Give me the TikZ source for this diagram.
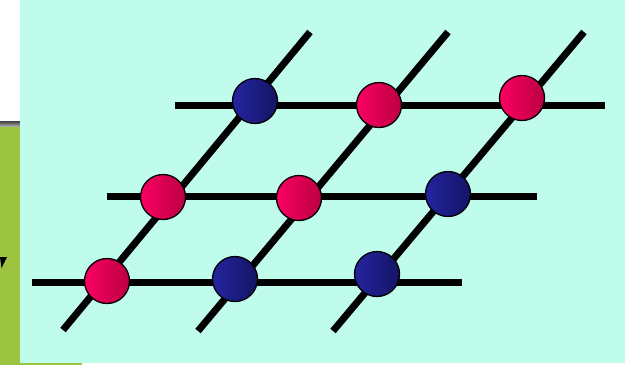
\documentclass[tikz,border=0pt]{standalone}
\begin{document}
\begin{tikzpicture}[x=1pt,y=-1pt,
  bar/.style={line width=7pt,line cap=butt,black},
  redball/.style={circle,draw=black,line width=1.3pt,minimum size=45pt,inner sep=0pt,left color=redL,right color=redR},
  blueball/.style={circle,draw=black,line width=1.3pt,minimum size=45pt,inner sep=0pt,left color=blueL,right color=blueR}]
\definecolor{bgcyan}{RGB}{192,252,236}
\definecolor{grn}{RGB}{157,196,64}
\definecolor{redL}{RGB}{250,0,98}
\definecolor{redR}{RGB}{188,0,66}
\definecolor{blueL}{RGB}{36,36,160}
\definecolor{blueR}{RGB}{20,20,100}
\useasboundingbox (0,0) rectangle (625,365);
% background pieces
\fill[white] (0,0) rectangle (625,365);
\fill[grn] (0,124) rectangle (20,365);
\fill[grn] (0,360) rectangle (82,365);
\shade[top color=black!75,bottom color=black!35] (0,121) rectangle (20,126);
\fill[black] (0,257) -- (7,257) -- (1.5,268) -- cycle;
\fill[bgcyan] (20,0) rectangle (625,363);
% line end points
\coordinate (h1a) at (175,105); \coordinate (h1b) at (605,105);
\coordinate (h2a) at (107,196); \coordinate (h2b) at (537,196);
\coordinate (h3a) at (32,282);  \coordinate (h3b) at (462,282);
\coordinate (d1a) at (63,330);  \coordinate (d1b) at (310,32);
\coordinate (d2a) at (198,331); \coordinate (d2b) at (448,32);
\coordinate (d3a) at (333,331); \coordinate (d3b) at (584,32);
\draw[bar] (h1a) -- (h1b);
\draw[bar] (h2a) -- (h2b);
\draw[bar] (h3a) -- (h3b);
\draw[bar] (d1a) -- (d1b);
\draw[bar] (d2a) -- (d2b);
\draw[bar] (d3a) -- (d3b);
% balls
\node[blueball] (b11) at (255,101) {};
\node[redball]  (b12) at (379,105) {};
\node[redball]  (b13) at (522,98) {};
\node[redball]  (b21) at (163,197) {};
\node[redball]  (b22) at (299,198) {};
\node[blueball] (b23) at (448,194) {};
\node[redball]  (b31) at (107,281) {};
\node[blueball] (b32) at (235,279) {};
\node[blueball] (b33) at (377,274) {};
\end{tikzpicture}
\end{document}
